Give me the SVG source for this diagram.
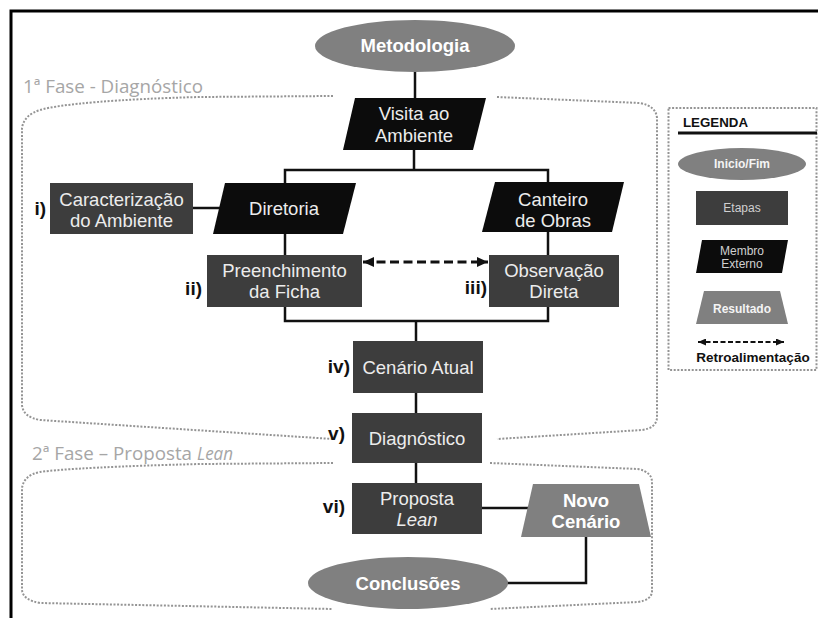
<svg xmlns="http://www.w3.org/2000/svg" width="818" height="618" viewBox="0 0 818 618">
<style>
text{font-family:"Liberation Sans",Arial,sans-serif;}
.t{font-size:18.5px;fill:#ececec;text-anchor:middle;}
.tb{font-size:18.5px;fill:#ffffff;text-anchor:middle;font-weight:bold;}
.lbl{font-size:19px;fill:#111;text-anchor:end;font-weight:bold;}
.step{fill:#3d3d3d;}
.ext{fill:#0c0c0c;}
.gray{fill:#808080;}
.conn{stroke:#111;stroke-width:2.5;fill:none;}
.dot{stroke:#949494;stroke-width:2;fill:none;stroke-dasharray:2 1.6;}
.phase{font-family:"Open Sans","Noto Sans",sans-serif;font-size:19px;fill:#a6a6a6;}
.lg{font-size:12px;text-anchor:middle;}
</style>
<defs>
<marker id="ah" markerUnits="userSpaceOnUse" markerWidth="11" markerHeight="10" refX="11" refY="5" orient="auto-start-reverse">
<path d="M0,0 L11,5 L0,10 z" fill="#111"/>
</marker>
<marker id="ahs" markerUnits="userSpaceOnUse" markerWidth="8" markerHeight="7" refX="8" refY="3.5" orient="auto-start-reverse">
<path d="M0,0 L8,3.5 L0,7 z" fill="#111"/>
</marker>
</defs>
<rect width="818" height="618" fill="#ffffff"/>
<g id="frame">
<path d="M11,618 V11 H818" stroke="#000" stroke-width="3" fill="none"/>
</g>
<g id="phase1">
<path class="dot" d="M333,96 L200,97 C120,99 60,104 40,110 Q24,115 22,128 L22,405 Q23,417 40,420 L333,439"/>
<path class="dot" d="M497,97 L640,103 Q656,106 657,118 L657,418 Q656,428 642,430 L497,439"/>
<text class="phase" x="23" y="93" textLength="180" lengthAdjust="spacingAndGlyphs">1ª Fase - Diagnóstico</text>
</g>
<g id="phase2">
<path class="dot" d="M333,463 L200,464 C120,466 60,469 40,472 Q24,475 22,488 L22,590 Q23,600 40,603 L333,609"/>
<path class="dot" d="M490,463 L638,469 Q652,472 652,482 L652,592 Q651,600 638,602 L490,609"/>
<text class="phase" x="32" y="460" textLength="160" lengthAdjust="spacingAndGlyphs">2ª Fase – Proposta</text>
<text class="phase" x="197" y="460" font-style="italic" textLength="36" lengthAdjust="spacingAndGlyphs">Lean</text>
</g>
<g id="connectors">
<path class="conn" d="M415,72 V98"/>
<path class="conn" d="M414,150 V170"/>
<path class="conn" d="M285,183 V170 H548 V182"/>
<path class="conn" d="M193,208 H220"/>
<path class="conn" d="M285,234 V255"/>
<path class="conn" d="M548,232 V255"/>
<path class="conn" d="M285,307 V321 H548 V307"/>
<path class="conn" d="M416,321 V341"/>
<path class="conn" d="M416,393 V413"/>
<path class="conn" d="M416,463 V483"/>
<path class="conn" d="M482,508 H528"/>
<path class="conn" d="M586,537 V583 H507"/>
<path d="M363,262 H488" stroke="#111" stroke-width="3" fill="none" stroke-dasharray="9 4.5" marker-start="url(#ah)" marker-end="url(#ah)"/>
</g>
<g id="metodologia">
<ellipse class="gray" cx="415" cy="46" rx="100" ry="26"/>
<text class="tb" x="415" y="52">Metodologia</text>
</g>
<g id="visita">
<polygon class="ext" points="355,98 486,98 473,150 343,150"/>
<text class="t" x="414" y="120">Visita ao</text>
<text class="t" x="414" y="142">Ambiente</text>
</g>
<g id="caracterizacao">
<rect class="step" x="50" y="183" width="143" height="51"/>
<text class="t" x="121.5" y="206">Caracterização</text>
<text class="t" x="121.5" y="227">do Ambiente</text>
<text class="lbl" x="46" y="215">i)</text>
</g>
<g id="diretoria">
<polygon class="ext" points="225,183 356,183 343,234 213,234"/>
<text class="t" x="284" y="215">Diretoria</text>
</g>
<g id="canteiro">
<polygon class="ext" points="495,182 624,182 612,232 482,232"/>
<text class="t" x="553" y="206">Canteiro</text>
<text class="t" x="553" y="227">de Obras</text>
</g>
<g id="preenchimento">
<rect class="step" x="207" y="255" width="155" height="52"/>
<text class="t" x="284.5" y="277">Preenchimento</text>
<text class="t" x="284.5" y="298">da Ficha</text>
<text class="lbl" x="202" y="295">ii)</text>
</g>
<g id="observacao">
<rect class="step" x="489" y="255" width="130" height="52"/>
<text class="t" x="554" y="277">Observação</text>
<text class="t" x="554" y="298">Direta</text>
<text class="lbl" x="487" y="294">iii)</text>
</g>
<g id="cenario-atual">
<rect class="step" x="353" y="341" width="130" height="52"/>
<text class="t" x="418" y="374">Cenário Atual</text>
<text class="lbl" x="350" y="373">iv)</text>
</g>
<g id="diagnostico">
<rect class="step" x="352" y="413" width="130" height="50"/>
<text class="t" x="417" y="445">Diagnóstico</text>
<text class="lbl" x="345" y="440">v)</text>
</g>
<g id="proposta">
<rect class="step" x="352" y="483" width="130" height="51"/>
<text class="t" x="417" y="505">Proposta</text>
<text class="t" x="417" y="526" font-style="italic">Lean</text>
<text class="lbl" x="345" y="513">vi)</text>
</g>
<g id="novo-cenario">
<polygon class="gray" points="533,484 639,484 651,537 521,537"/>
<text class="tb" x="586" y="507">Novo</text>
<text class="tb" x="586" y="528">Cenário</text>
</g>
<g id="conclusoes">
<ellipse class="gray" cx="408" cy="583" rx="100" ry="26"/>
<text class="tb" x="408" y="590">Conclusões</text>
</g>
<g id="legenda">
<rect x="668.5" y="108" width="148" height="262" fill="none" stroke="#949494" stroke-width="2" stroke-dasharray="2 1.6"/>
<text x="683" y="127" font-size="13.3" font-weight="bold" fill="#111">LEGENDA</text>
<line x1="678" y1="133" x2="817" y2="133" stroke="#111" stroke-width="3"/>
<ellipse class="gray" cx="742" cy="164" rx="64" ry="16"/>
<text class="lg" x="742" y="168" fill="#f4f4f4" font-weight="bold">Inicio/Fim</text>
<rect class="step" x="696" y="191" width="92" height="34"/>
<text class="lg" x="742" y="212" fill="#d0d0d0">Etapas</text>
<polygon class="ext" points="702,240 788,240 782,273 696,273"/>
<text class="lg" x="742" y="255" fill="#d0d0d0" font-size="11.5">Membro</text>
<text class="lg" x="742" y="268" fill="#d0d0d0" font-size="11.5">Externo</text>
<polygon class="gray" points="704,291 780,291 788,324 696,324"/>
<text class="lg" x="742" y="313" fill="#f4f4f4" font-weight="bold">Resultado</text>
<path d="M698,342 H784" stroke="#111" stroke-width="1.8" fill="none" stroke-dasharray="5 2.5" marker-start="url(#ahs)" marker-end="url(#ahs)"/>
<text x="753" y="362" font-size="13.5" font-weight="bold" fill="#111" text-anchor="middle">Retroalimentação</text>
</g>
</svg>
